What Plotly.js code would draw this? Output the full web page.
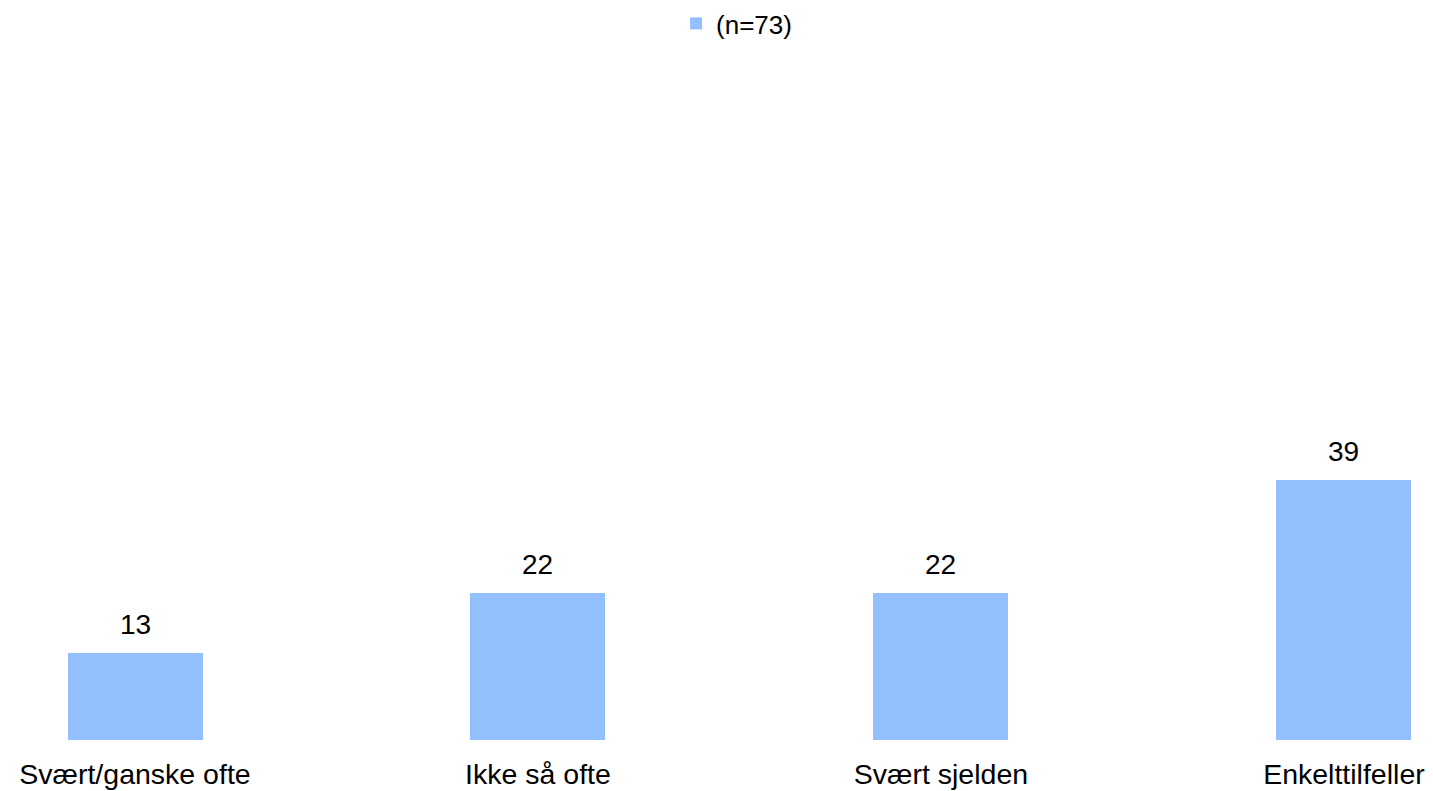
<!DOCTYPE html>
<html><head><meta charset="utf-8">
<script src="https://cdn.plot.ly/plotly-3.0.1.min.js"></script>
<style>html,body{margin:0;padding:0;background:#fff}#chart{width:1433px;height:791px}</style>
</head><body><div id="chart"></div>
<script>
const categories = ["Svært/ganske ofte", "Ikke så ofte", "Svært sjelden", "Enkelttilfeller"];
const values = [13, 22, 22, 39];
const seriesName = "(n=73)";

const FONT = 'Liberation Sans, Arial, sans-serif';

const trace = {
  type: 'bar',
  x: categories,
  y: values,
  name: seriesName,
  marker: {color: '#93BFFF'},
  width: 0.335,
  showlegend: true
};

const annotations = categories.map((c, i) => ({
  x: c, y: values[i], xref: 'x', yref: 'y',
  text: String(values[i]),
  showarrow: false, xanchor: 'center', yanchor: 'bottom', yshift: 11,
  font: {family: FONT, size: 28, color: '#000'}
}));

const layout = {
  width: 1433, height: 791,
  margin: {l: 0, r: 0, t: 74, b: 51},
  paper_bgcolor: '#fff', plot_bgcolor: '#fff',
  font: {family: FONT, color: '#000'},
  showlegend: true,
  legend: {orientation: 'h', x: 0.514, xanchor: 'center', y: 1, yref: 'container', yanchor: 'top',
           font: {size: 26, color: '#000'}, itemwidth: 30},
  bargap: 0,
  annotations: annotations,
  xaxis: {type: 'category', range: [-0.335, 3.221], showline: false, showgrid: false, zeroline: false,
          ticks: '', tickfont: {size: 28.5, color: '#000'}, ticklabelstandoff: 14, automargin: false, fixedrange: true},
  yaxis: {range: [0, 100], visible: false, fixedrange: true}
};

Plotly.newPlot('chart', [trace], layout, {displayModeBar: false, staticPlot: true});
</script></body></html>
